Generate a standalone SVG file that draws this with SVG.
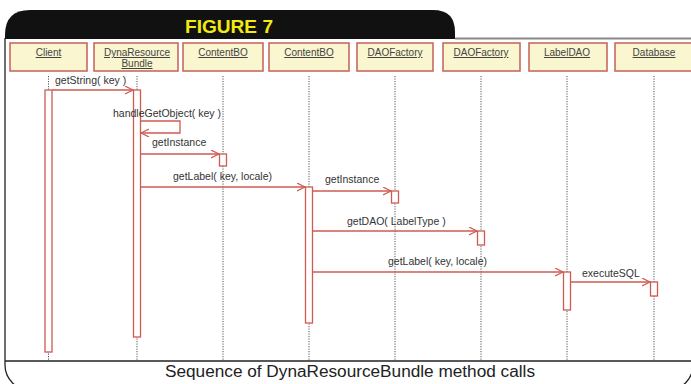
<svg xmlns="http://www.w3.org/2000/svg" width="691" height="384" viewBox="0 0 691 384">
  <style>
    .box { fill: #faf6cf; stroke: #c96a60; stroke-width: 1.6; }
    .name { font-family: "Liberation Sans", Arial, sans-serif; font-size: 10px; fill: #444; text-anchor: middle; text-decoration: underline; }
    .life { stroke: #555; stroke-width: 1; stroke-dasharray: 1.2 1.3; fill: none; }
    .act { fill: #fff; stroke: #cf5a52; stroke-width: 1.3; }
    .msg { stroke: #cf5a52; stroke-width: 1.3; fill: none; marker-end: url(#open); }
    .lbl { font-family: "Liberation Sans", Arial, sans-serif; font-size: 10.5px; fill: #333; }
    .frame { fill: none; stroke: #222; stroke-width: 1.3; }
  </style>
  <defs>
    <marker id="open" markerUnits="userSpaceOnUse" markerWidth="10" markerHeight="10" refX="8" refY="4" orient="auto">
      <path d="M0,0 L8,4 L0,8" fill="none" stroke="#cf5a52" stroke-width="1.2"/>
    </marker>
  </defs>

  <rect width="691" height="384" fill="#fff"/>

  <!-- frame and title tab -->
  <g id="frame">
    <path d="M5,38 V35 Q5,10 30,10 H433 Q455,10 455,32 V39 H5 Z" fill="#111"/>
    <line x1="455" y1="38.5" x2="691" y2="38.5" stroke="#888" stroke-width="2"/>
    <path class="frame" d="M5,38 V365 A25,25 0 0 0 30,390"/>
    <path class="frame" d="M693,365 A25,25 0 0 1 668,390"/>
    <line class="frame" x1="5" y1="361" x2="691" y2="361"/>
    <text x="229" y="33" font-family="Liberation Sans, Arial, sans-serif" font-weight="bold" font-size="18" fill="#f3ea10" text-anchor="middle" textLength="88" lengthAdjust="spacingAndGlyphs">FIGURE  7</text>
    <text x="350" y="377" font-family="Liberation Sans, Arial, sans-serif" font-size="16" fill="#222" text-anchor="middle" textLength="370" lengthAdjust="spacingAndGlyphs">Sequence of DynaResourceBundle method calls</text>
  </g>

  <!-- lifelines -->
  <g id="lifelines">
    <line class="life" x1="48.5" y1="76" x2="48.5" y2="360"/>
    <line class="life" x1="137" y1="76" x2="137" y2="360"/>
    <line class="life" x1="223" y1="76" x2="223" y2="360"/>
    <line class="life" x1="309" y1="76" x2="309" y2="360"/>
    <line class="life" x1="395" y1="76" x2="395" y2="360"/>
    <line class="life" x1="481" y1="76" x2="481" y2="360"/>
    <line class="life" x1="567" y1="76" x2="567" y2="360"/>
    <line class="life" x1="654" y1="76" x2="654" y2="360"/>
  </g>

  <!-- participants -->
  <g id="client">
    <rect class="box" x="10" y="43" width="77" height="28"/>
    <text class="name" x="48.5" y="56">Client</text>
    <rect class="act" x="45" y="90" width="7" height="262"/>
  </g>
  <g id="dynaResourceBundle">
    <rect class="box" x="94" y="43" width="84" height="28"/>
    <text class="name" x="137" y="56">DynaResource</text>
    <text class="name" x="137" y="67">Bundle</text>
    <rect class="act" x="133.5" y="90" width="7" height="247"/>
  </g>
  <g id="contentBO1">
    <rect class="box" x="183" y="43" width="80" height="28"/>
    <text class="name" x="223" y="56">ContentBO</text>
    <rect class="act" x="219.5" y="154" width="7" height="12"/>
  </g>
  <g id="contentBO2">
    <rect class="box" x="269" y="43" width="80" height="28"/>
    <text class="name" x="309" y="56">ContentBO</text>
    <rect class="act" x="305.5" y="187" width="7" height="136"/>
  </g>
  <g id="daoFactory1">
    <rect class="box" x="357" y="43" width="76" height="28"/>
    <text class="name" x="395" y="56">DAOFactory</text>
    <rect class="act" x="391.5" y="191" width="7" height="12"/>
  </g>
  <g id="daoFactory2">
    <rect class="box" x="443" y="43" width="77" height="28"/>
    <text class="name" x="481" y="56">DAOFactory</text>
    <rect class="act" x="477.5" y="231" width="7" height="14"/>
  </g>
  <g id="labelDAO">
    <rect class="box" x="529" y="43" width="78" height="28"/>
    <text class="name" x="567" y="56">LabelDAO</text>
    <rect class="act" x="563.5" y="272" width="7" height="38"/>
  </g>
  <g id="database">
    <rect class="box" x="615" y="43" width="80" height="28"/>
    <text class="name" x="654" y="56">Database</text>
    <rect class="act" x="650.5" y="282" width="7" height="14"/>
  </g>

  <!-- messages -->
  <g id="connectors">
    <line class="msg" x1="52" y1="90" x2="133" y2="90"/>
    <path class="msg" d="M140.5,121 H180 V133 H141"/>
    <line class="msg" x1="140.5" y1="154" x2="219" y2="154"/>
    <line class="msg" x1="140.5" y1="187" x2="305" y2="187"/>
    <line class="msg" x1="312.5" y1="191" x2="391" y2="191"/>
    <line class="msg" x1="312.5" y1="231" x2="477" y2="231"/>
    <line class="msg" x1="312.5" y1="272" x2="563" y2="272"/>
    <line class="msg" x1="570.5" y1="282" x2="650" y2="282"/>
    <text class="lbl" x="55" y="84">getString( key )</text>
    <text class="lbl" x="113" y="117">handleGetObject( key )</text>
    <text class="lbl" x="152" y="146">getInstance</text>
    <text class="lbl" x="173" y="180">getLabel( key, locale)</text>
    <text class="lbl" x="325" y="183">getInstance</text>
    <text class="lbl" x="347" y="225">getDAO( LabelType )</text>
    <text class="lbl" x="388" y="265">getLabel( key, locale)</text>
    <text class="lbl" x="582" y="277">executeSQL</text>
  </g>
</svg>
